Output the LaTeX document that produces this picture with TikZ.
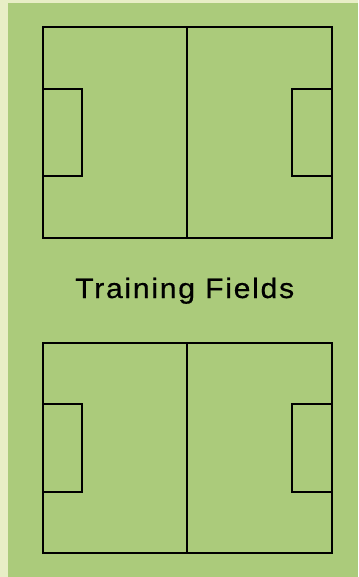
\documentclass[tikz,border=0pt]{standalone}
\usepackage{fontspec}
\setmainfont{Liberation Sans}[FakeStretch=1.08, LetterSpace=6, FakeBold=0.5]
\definecolor{pale}{HTML}{E8EEC6}
\definecolor{grass}{HTML}{ABCB7B}
\tikzset{
  line/.style={draw=black, line width=2pt},
  fieldlabel/.style={font=\fontsize{28}{32}\selectfont, text=black, inner sep=0pt}
}
\begin{document}
\begin{tikzpicture}[x=1pt,y=-1pt]
\useasboundingbox (0,0) rectangle (358,577);
\fill[pale] (0,0) rectangle (358,577);
\fill[grass] (8,3) rectangle (358,577);
% upper field
\draw[line] (42.5,27) rectangle (332,238);
\draw[line] (187,27) -- (187,238);
\draw[line] (42.5,89) rectangle (82,176);
\draw[line] (292,89) rectangle (332,176);
% label
\node[fieldlabel, anchor=base west] (lbl) at (75,298) {Training Fields};
% lower field
\draw[line] (42.5,343) rectangle (332,553);
\draw[line] (187,343) -- (187,553);
\draw[line] (42.5,404) rectangle (82,492);
\draw[line] (292,404) rectangle (332,492);
\end{tikzpicture}
\end{document}
